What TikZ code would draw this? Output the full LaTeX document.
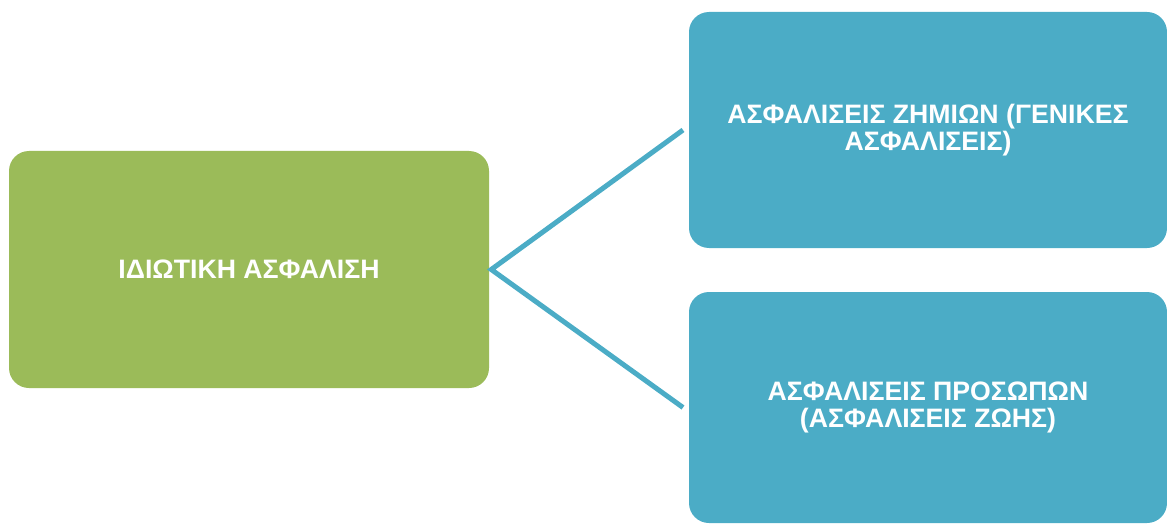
\documentclass[tikz,border=0pt]{standalone}
\usepackage{fontspec}
\setmainfont{Liberation Sans}
\usepackage{tikz}
\usetikzlibrary{positioning}
\definecolor{boxgreen}{HTML}{9BBB59}
\definecolor{boxblue}{HTML}{4BACC6}

\begin{document}
\begin{tikzpicture}[x=0.75pt, y=-0.75pt,
    box/.style={rounded corners=15pt, inner sep=0pt, align=center, text=white,
      font=\fontsize{20pt}{20.5pt}\selectfont\bfseries},
    mainbox/.style={box, fill=boxgreen, minimum width=360pt, minimum height=177.75pt},
    subbox/.style={box, fill=boxblue, minimum width=358.5pt, outer sep=4.5pt}]
      \useasboundingbox (0, 0) rectangle (1167, 524);
      \node [mainbox] (private) at (249, 269.5) {ΙΔΙΩΤΙΚΗ ΑΣΦΑΛΙΣΗ};
      \node [subbox, minimum height=177pt] (general) at (928, 130) {ΑΣΦΑΛΙΣΕΙΣ ΖΗΜΙΩΝ (ΓΕΝΙΚΕΣ\\ΑΣΦΑΛΙΣΕΙΣ)};
      \node [subbox, minimum height=173.25pt] (life) at (928, 407.5) {ΑΣΦΑΛΙΣΕΙΣ ΠΡΟΣΩΠΩΝ\\(ΑΣΦΑΛΙΣΕΙΣ ΖΩΗΣ)};

      \draw [boxblue, line width=3.75pt] (general.west) -- ([xshift=1.5pt]private.east) -- (life.west);
    \end{tikzpicture}
\end{document}
